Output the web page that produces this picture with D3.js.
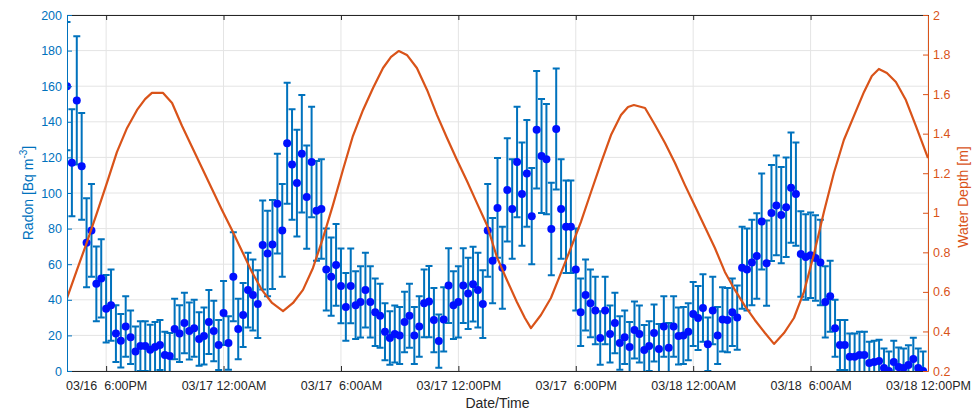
<!DOCTYPE html>
<html>
<head>
<meta charset="utf-8">
<script src="https://cdn.jsdelivr.net/npm/d3@7"></script>
<style>
  body { margin: 0; background: #fff; }
  svg { font-family: "Liberation Sans", Arial, sans-serif; }
</style>
</head>
<body>
<svg width="972" height="413"></svg>
<script>
// radon samples every 15 min starting 03/16 4:00PM
const startTime = '2019-03-16T16:00';
const endTime = '2019-03-18T12:00';
const stepMinutes = 15;

const radon = [
  160, 117, 152, 115, 72, 79, 49, 52, 35, 37,
  21, 17, 25, 19, 11, 14, 14, 12, 13.5, 14.6,
  9, 8.4, 23.6, 21, 27, 22.5, 24, 18, 19.7, 27.5,
  22.5, 14.6, 32.6, 15.7, 53, 23.6, 31.5, 45.5, 42.7, 37.6,
  70.8, 66, 71, 94, 79, 128, 116, 105.6, 122, 97.7,
  117.4, 90, 91, 57, 53, 59.6, 47.8, 36, 47.8, 37,
  38.8, 45.5, 38.8, 33, 31, 22, 18.5, 20.8, 20, 27.5,
  31, 20, 25, 38, 39, 28.6, 16.8, 29, 48, 37,
  38.8, 48, 43.6, 48.8, 45.5, 37.6, 79, 62, 91.6, 58,
  101.7, 91, 117.4, 99.4, 111, 87, 135.5, 120.8, 119, 79.8,
  136, 91, 81, 81, 57, 33, 42.7, 38, 34, 18.5,
  34, 20.8, 27, 15.7, 19, 13.5, 23, 20.8, 11.8, 14,
  21.4, 12.4, 25, 13, 25, 19.7, 20, 22, 32, 29.8,
  35.4, 15, 34, 20, 29, 28.6, 33, 30, 58, 57,
  61, 64.6, 84, 60.6, 88.8, 93, 87.6, 92, 103, 99.4,
  65.7, 64, 65, 63.5, 61, 38.8, 42, 24, 14.6, 14.6,
  8, 8, 9, 9, 4.5, 5, 5.6, 1.7, 0, 5,
  2.2, 1.7, 3.4, 6.7, 1.7, 0
];

const radonErr = [
  36, 30, 36, 30, 25, 26, 21, 22, 19, 20,
  16, 15, 17, 15, 14, 14, 14, 14, 14, 14,
  13, 13, 17, 16, 17, 16, 16, 15, 16, 18,
  17, 14, 18, 15, 25, 17, 18, 21, 20, 19,
  25, 24, 25, 28, 26, 34, 31, 30, 33, 29,
  31, 28, 28, 23, 22, 23, 21, 19, 21, 19,
  20, 21, 20, 19, 18, 16, 15, 16, 16, 17,
  18, 16, 17, 19, 20, 18, 15, 18, 21, 19,
  20, 21, 20, 21, 21, 19, 26, 24, 28, 23,
  29, 28, 31, 29, 30, 27, 33, 32, 31, 26,
  34, 28, 26, 26, 23, 19, 20, 19, 19, 15,
  19, 16, 17, 15, 15, 14, 16, 16, 14, 14,
  16, 14, 17, 14, 17, 16, 16, 16, 18, 18,
  19, 15, 19, 16, 18, 18, 19, 18, 23, 23,
  24, 24, 27, 24, 27, 28, 27, 28, 31, 29,
  24, 24, 24, 24, 24, 20, 20, 16, 14, 14,
  13, 13, 13, 13, 12, 12, 12, 11, 11, 12,
  11, 11, 11, 12, 11, 11
];

// water depth, hours after start
const depthHours = [
  0, 0.51, 1.02, 1.53, 2.04, 2.55, 3.07, 3.58, 3.99, 4.34,
  4.91, 5.37, 5.88, 6.39, 6.9, 7.41, 7.92, 8.43, 8.94, 9.45,
  9.96, 10.48, 11.04, 11.55, 12.06, 12.57, 13.08, 13.59, 14.1, 14.61,
  15.13, 15.64, 16.15, 16.56, 16.96, 17.37, 17.88, 18.4, 18.91, 19.42,
  19.93, 20.44, 20.95, 21.46, 21.97, 22.48, 22.99, 23.4, 23.71, 24.22,
  24.73, 25.24, 25.75, 26.26, 26.78, 27.29, 27.8, 28.31, 28.67, 28.97,
  29.54, 30.05, 30.56, 31.07, 31.58, 32.09, 32.6, 33.11, 33.62, 34.13,
  34.64, 35.15, 35.67, 36.13, 36.64, 37.15, 37.66, 38.17, 38.68, 39.19,
  39.7, 40.21, 40.73, 41.13, 41.49, 41.9, 42.36, 42.87, 43.38, 44
];
const depth = [
  0.569, 0.711, 0.852, 0.999, 1.151, 1.307, 1.429, 1.52, 1.575, 1.606,
  1.606, 1.555, 1.439, 1.333, 1.226, 1.12, 1.014, 0.913, 0.807, 0.701,
  0.61, 0.544, 0.503, 0.544, 0.61, 0.721, 0.872, 1.039, 1.216, 1.388,
  1.52, 1.631, 1.732, 1.788, 1.818, 1.798, 1.732, 1.621, 1.494, 1.378,
  1.267, 1.161, 1.049, 0.938, 0.776, 0.66, 0.549, 0.468, 0.417, 0.483,
  0.569, 0.695, 0.822, 0.953, 1.105, 1.252, 1.393, 1.494, 1.535, 1.545,
  1.53, 1.444, 1.353, 1.252, 1.14, 1.034, 0.928, 0.822, 0.701, 0.61,
  0.529, 0.458, 0.392, 0.337, 0.392, 0.468, 0.6, 0.79, 1.004, 1.201,
  1.368, 1.489, 1.611, 1.692, 1.727, 1.707, 1.661, 1.57, 1.439, 1.277
];

const xTickTimes = ['2019-03-16T18:00', '2019-03-17T00:00', '2019-03-17T06:00', '2019-03-17T12:00',
  '2019-03-17T18:00', '2019-03-18T00:00', '2019-03-18T06:00', '2019-03-18T12:00'];
const xTickLabels = ['03/16  6:00PM', '03/17 12:00AM', '03/17  6:00AM', '03/17 12:00PM',
  '03/17  6:00PM', '03/18 12:00AM', '03/18  6:00AM', '03/18 12:00PM'];
const radonTicks = d3.range(0, 201, 20);
const depthTicks = [0.2, 0.4, 0.6, 0.8, 1, 1.2, 1.4, 1.6, 1.8, 2];

const blue = '#0072BD';
const orange = '#D95319';
const dark = '#262626';

const svg = d3.select('svg');
const plotL = 67, plotR = 928, plotT = 15, plotB = 371;

const t0 = new Date(startTime);
const x = d3.scaleTime().domain([t0, new Date(endTime)]).range([plotL, plotR]);
const yL = d3.scaleLinear().domain([0, 200]).range([plotB, plotT]);
const yR = d3.scaleLinear().domain([0.2, 2]).range([plotB, plotT]);

const tickDates = xTickTimes.map(s => new Date(s));
const radonData = radon.map((v, i) => ({ t: d3.timeMinute.offset(t0, i * stepMinutes), v, e: radonErr[i] }));
const depthData = depth.map((d, i) => ({ t: new Date(+t0 + depthHours[i] * 3600e3), d }));

svg.append('defs').append('clipPath').attr('id', 'plot')
  .append('rect').attr('x', plotL).attr('y', plotT).attr('width', plotR - plotL).attr('height', plotB - plotT);

// grid
const grid = svg.append('g').attr('stroke', '#e4e4e4').attr('stroke-width', 1);
grid.selectAll('.gx').data(tickDates).join('line')
  .attr('x1', d => x(d)).attr('x2', d => x(d)).attr('y1', plotT).attr('y2', plotB);
grid.selectAll('.gy').data(radonTicks).join('line')
  .attr('x1', plotL).attr('x2', plotR).attr('y1', d => yL(d)).attr('y2', d => yL(d));

// error bars + markers
const plot = svg.append('g').attr('clip-path', 'url(#plot)');
const bars = plot.append('g').attr('stroke', blue).attr('stroke-width', 2).attr('fill', 'none');
const cap = 3.5;
bars.selectAll('path').data(radonData).join('path')
  .attr('d', d => {
    const cx = x(d.t), y1 = yL(d.v + d.e), y0 = yL(d.v - d.e);
    return `M${cx},${y0}V${y1}M${cx - cap},${y1}H${cx + cap}M${cx - cap},${y0}H${cx + cap}`;
  });
plot.append('g').selectAll('circle').data(radonData).join('circle')
  .attr('cx', d => x(d.t)).attr('cy', d => yL(d.v)).attr('r', 4)
  .attr('fill', '#0010ff');

// water depth line
plot.append('path').datum(depthData)
  .attr('fill', 'none').attr('stroke', orange).attr('stroke-width', 2.2)
  .attr('stroke-linejoin', 'round')
  .attr('d', d3.line().x(d => x(d.t)).y(d => yR(d.d)));

// axes
const xAxis = svg.append('g').attr('transform', `translate(0,${plotB})`)
  .call(d3.axisBottom(x).tickValues(tickDates).tickFormat((d, i) => xTickLabels[i])
    .tickSizeInner(-5).tickSizeOuter(0).tickPadding(10));
const xTop = svg.append('g').attr('transform', `translate(0,${plotT})`)
  .call(d3.axisTop(x).tickValues(tickDates).tickFormat('').tickSizeInner(-5).tickSizeOuter(0));
const yAxisL = svg.append('g').attr('transform', `translate(${plotL},0)`)
  .call(d3.axisLeft(yL).tickValues(radonTicks).tickSizeInner(-5).tickSizeOuter(0).tickPadding(5));
const yAxisR = svg.append('g').attr('transform', `translate(${plotR},0)`)
  .call(d3.axisRight(yR).tickValues(depthTicks).tickFormat(d3.format('~g'))
    .tickSizeInner(-5).tickSizeOuter(0).tickPadding(5));

svg.selectAll('.tick text').attr('font-size', 12.5);
svg.selectAll('g').attr('font-family', null);
xAxis.selectAll('.tick text').style('white-space', 'pre').attr('fill', dark);
xAxis.selectAll('.domain, .tick line').attr('stroke', dark);
xTop.selectAll('.domain, .tick line').attr('stroke', dark);
yAxisL.selectAll('.domain, .tick line').attr('stroke', blue);
yAxisL.selectAll('.tick text').attr('fill', blue);
yAxisR.selectAll('.domain, .tick line').attr('stroke', orange);
yAxisR.selectAll('.tick text').attr('fill', orange);

// labels
svg.append('text').attr('transform', 'translate(33,193) rotate(-90)')
  .attr('text-anchor', 'middle').attr('fill', blue).attr('font-size', 14)
  .text('Radon [Bq m')
  .call(t => {
    t.append('tspan').attr('dy', -6).attr('font-size', 10).text('-3');
    t.append('tspan').attr('dy', 6).text(']');
  });
svg.append('text').attr('transform', 'translate(968,197) rotate(-90)')
  .attr('text-anchor', 'middle').attr('fill', orange).attr('font-size', 14)
  .text('Water Depth [m]');
svg.append('text').attr('x', (plotL + plotR) / 2).attr('y', 408)
  .attr('text-anchor', 'middle').attr('fill', dark).attr('font-size', 14)
  .text('Date/Time');
</script>
</body>
</html>
